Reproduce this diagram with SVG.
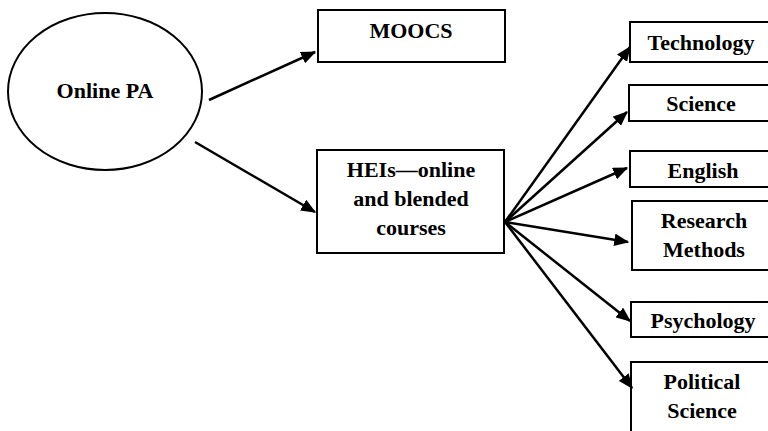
<svg xmlns="http://www.w3.org/2000/svg" width="768" height="431" viewBox="0 0 768 431">
<style>
.n{fill:#fff;stroke:#000;stroke-width:2}
.t{font-family:'Liberation Serif',serif;font-weight:700;font-size:22px;fill:#000;text-anchor:middle}
.c{stroke:#000;stroke-width:2.5;fill:none;marker-end:url(#ah)}
</style>
<defs>
<marker id="ah" markerWidth="6" markerHeight="5" refX="5.5" refY="2.5" orient="auto" markerUnits="strokeWidth">
<path d="M0,0 L6,2.5 L0,5 z" fill="#000"/>
</marker>
</defs>
<rect width="768" height="431" fill="#fff"/>
<g id="online-pa"><ellipse class="n" cx="105" cy="91.5" rx="97" ry="78.5"/><text class="t" x="105" y="98">Online PA</text></g>
<g id="moocs"><rect class="n" x="318" y="10" width="187" height="52"/><text class="t" x="411" y="38">MOOCS</text></g>
<g id="heis"><rect class="n" x="317" y="150" width="187" height="103"/><text class="t" x="411" y="177">HEIs—online</text><text class="t" x="411" y="206">and blended</text><text class="t" x="411" y="235">courses</text></g>
<g id="technology"><rect class="n" x="630" y="22" width="140" height="40"/><text class="t" x="701" y="50">Technology</text></g>
<g id="science"><rect class="n" x="629" y="85" width="141" height="36"/><text class="t" x="701" y="111">Science</text></g>
<g id="english"><rect class="n" x="630" y="151" width="140" height="36"/><text class="t" x="703" y="178">English</text></g>
<g id="research"><rect class="n" x="632" y="201" width="138" height="69"/><text class="t" x="704" y="228">Research</text><text class="t" x="704" y="257">Methods</text></g>
<g id="psychology"><rect class="n" x="631" y="302" width="139" height="35"/><text class="t" x="703" y="328">Psychology</text></g>
<g id="political"><rect class="n" x="631" y="362" width="139" height="75"/><text class="t" x="702" y="389">Political</text><text class="t" x="702" y="418">Science</text></g>
<g id="connectors">
<line class="c" x1="209" y1="100" x2="315" y2="52"/>
<line class="c" x1="195" y1="142" x2="315" y2="212"/>
<line class="c" x1="505" y1="222" x2="630" y2="47"/>
<line class="c" x1="505" y1="222" x2="627" y2="112"/>
<line class="c" x1="505" y1="222" x2="627" y2="168"/>
<line class="c" x1="505" y1="222" x2="628" y2="242"/>
<line class="c" x1="505" y1="222" x2="630" y2="321"/>
<line class="c" x1="505" y1="222" x2="632" y2="388"/>
</g>
</svg>
